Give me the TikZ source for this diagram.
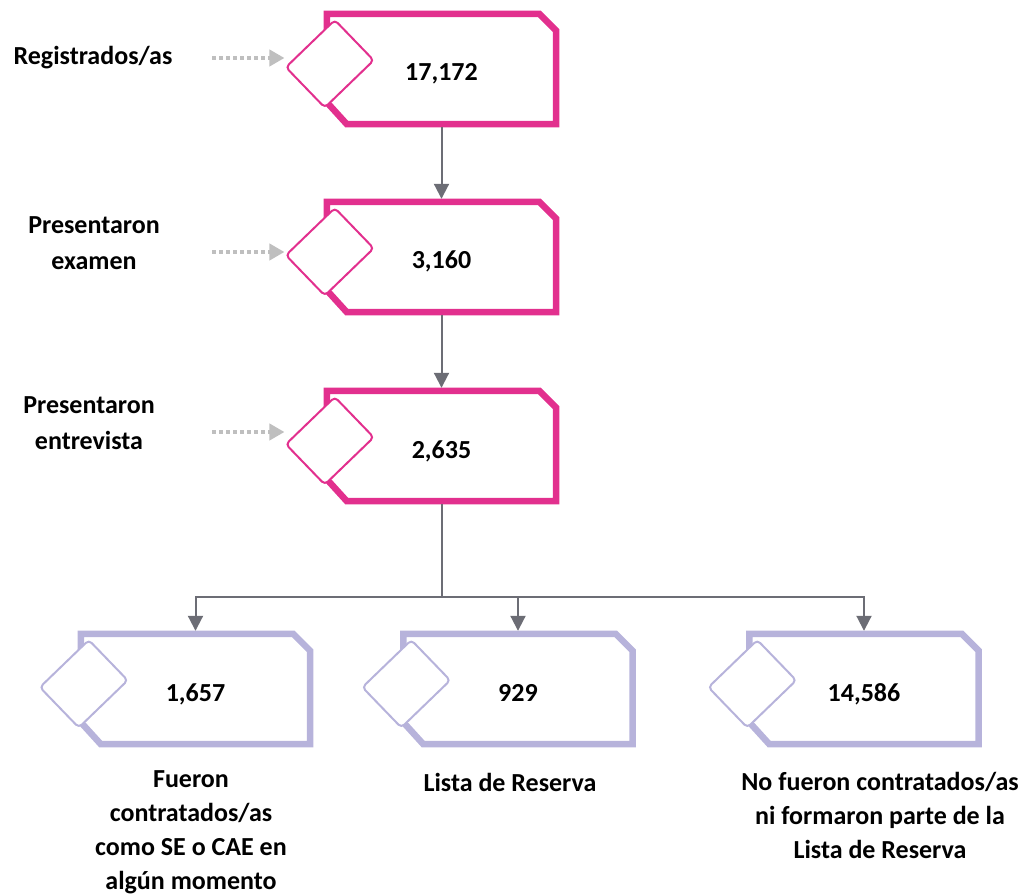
\documentclass[tikz,border=0pt]{standalone}
\usepackage{fontspec}
\setmainfont{Carlito}
\usetikzlibrary{arrows.meta,calc}

\definecolor{rosa}{HTML}{E2308E}
\definecolor{lila}{HTML}{B7B3DB}
\definecolor{gris}{HTML}{6C6D75}
\definecolor{grisclaro}{HTML}{BFBFBF}

\tikzset{
  cifra/.style={minimum width=229pt, minimum height=110pt, inner sep=0pt,
    text height=24pt, text depth=0pt, font=\fontsize{26}{30}\selectfont\bfseries},
  rombo/.style={draw=#1, fill=white, line width=2pt, rounded corners=4pt,
    minimum width=68pt, minimum height=56pt, rotate=44, inner sep=0pt},
  etiqueta/.style={align=center, font=\fontsize{26}{36}\selectfont\bfseries},
  etiquetab/.style={align=center, font=\fontsize{26}{34}\selectfont\bfseries},
  flecha/.style={draw=gris, line width=2pt, -{Triangle[length=15pt,width=15pt]},
    shorten >=3pt, shorten <=3pt},
  entrada/.style={draw=grisclaro, line width=4.5pt, dash pattern=on 4pt off 3pt,
    -{Triangle[length=15pt,width=16pt]}},
}

% #1 nombre, #2 centro, #3 color, #4 cifra
\newcommand{\caja}[4]{%
  \node[cifra] (#1) at (#2) {#4};
  \draw[#3, line width=6.5pt] (#1.north west) -- ($(#1.north east)+(-17,0)$)
    -- ($(#1.north east)+(0,17)$) -- (#1.south east)
    -- ($(#1.south west)+(20,0)$) -- ($(#1.south west)+(0,-22)$) -- cycle;
  \node[rombo=#3] (#1r) at ($(#1.north west)+(3,50)$) {};
}

\begin{document}
\begin{tikzpicture}[x=1pt, y=-1pt]
  \useasboundingbox (0,0) rectangle (1031,896);

  % etapas
  \caja{c1}{441.5,69}{rosa}{17,172}
  \caja{c2}{441.5,257}{rosa}{3,160}
  \caja{c3}{441.5,446}{rosa}{2,635}

  % resultados
  \caja{cA}{195.5,689}{lila}{1,657}
  \caja{cB}{518,689}{lila}{929}
  \caja{cC}{864,689}{lila}{14,586}

  % etiquetas
  \node[etiqueta] (l1) at (93,58) {Registrados/as};
  \node[etiqueta] (l2) at (94,243) {Presentaron\\examen};
  \node[etiqueta] (l3) at (89,423) {Presentaron\\entrevista};
  \node[etiquetab] (lA) at (191,832) {Fueron\\contratados/as\\como SE o CAE en\\algún momento};
  \node[etiquetab] (lB) at (510,782) {Lista de Reserva};
  \node[etiquetab] (lC) at (880,815) {No fueron contratados/as\\ni formaron parte de la\\Lista de Reserva};

  % entradas punteadas
  \coordinate (in1) at (212,58);
  \coordinate (in2) at (212,252);
  \coordinate (in3) at (212,432);
  \draw[entrada] (in1) -- (in1 -| c1r.north west);
  \draw[entrada] (in2) -- (in2 -| c2r.north west);
  \draw[entrada] (in3) -- (in3 -| c3r.north west);

  % flujo
  \draw[flecha] (c1.south) -- (c2.north);
  \draw[flecha] (c2.south) -- (c3.north);
  \coordinate (reparto) at (441.5,597);
  \draw[flecha] (c3.south) -- (reparto) -| (cA.north);
  \draw[flecha] (c3.south) -- (reparto) -| (cB.north);
  \draw[flecha] (c3.south) -- (reparto) -| (cC.north);
\end{tikzpicture}
\end{document}
